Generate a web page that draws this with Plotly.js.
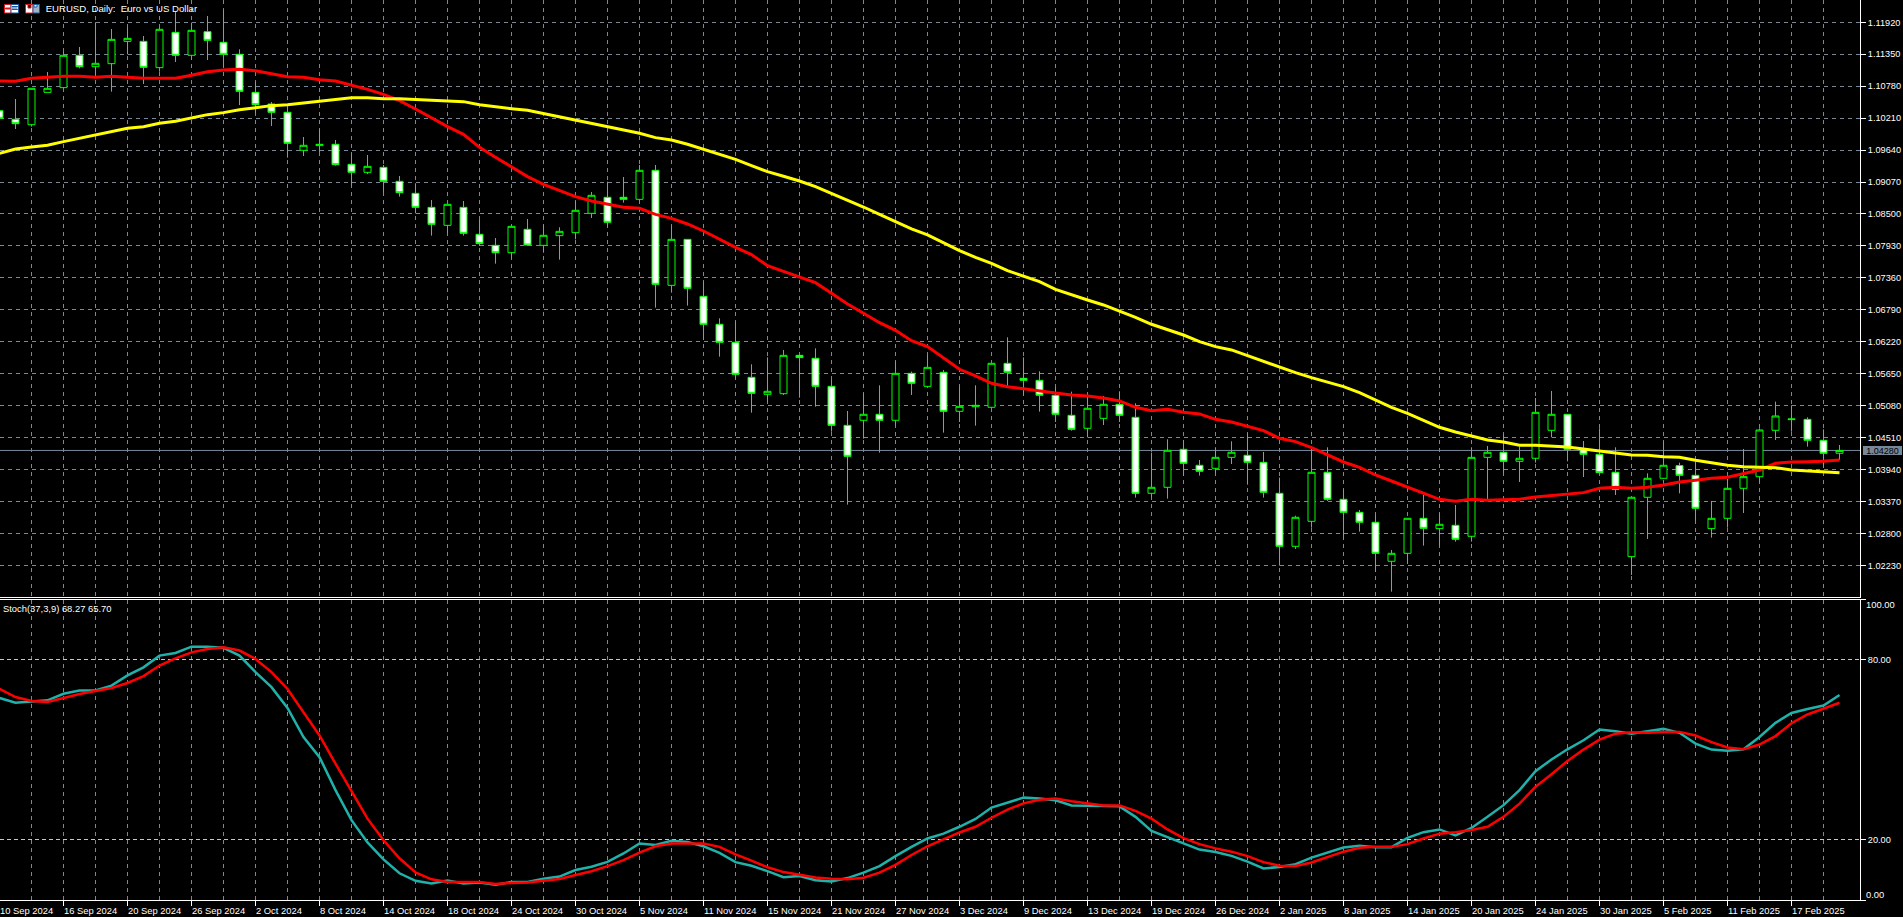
<!DOCTYPE html>
<html>
<head>
<meta charset="utf-8">
<title>EURUSD, Daily</title>
<script src="https://cdn.plot.ly/plotly-3.0.1.min.js"></script>
<style>
html, body { margin: 0; padding: 0; background: #000; overflow: hidden; }
#chart { width: 1903px; height: 917px; }
</style>
</head>
<body>
<div id="chart"></div>
<script>
// daily bars
var opens = [1.10343,1.10189,1.10093,1.10670,1.10754,1.11331,1.11128,1.11182,1.11580,1.11580,
1.11111,1.11741,1.11331,1.11753,1.11563,1.11349,1.10670,1.10462,1.10314,1.09636,
1.09719,1.09743,1.09386,1.09243,1.09332,1.09082,1.08868,1.08618,1.08297,1.08618,
1.08137,1.07940,1.07809,1.08226,1.07940,1.08113,1.08166,1.08511,1.08797,1.08797,
1.08761,1.09279,1.07226,1.08047,1.07030,1.06531,1.06209,1.05585,1.05282,1.05293,
1.05977,1.05924,1.05424,1.04728,1.04818,1.04925,1.04818,1.05656,1.05424,1.05674,
1.04978,1.05061,1.05050,1.05835,1.05567,1.05531,1.05264,1.04907,1.04675,1.04853,
1.05103,1.04871,1.03515,1.03622,1.04300,1.04015,1.03961,1.04157,1.04193,1.04068,
1.03515,1.02569,1.03015,1.03890,1.03408,1.03176,1.02998,1.02302,1.02444,1.03069,
1.02885,1.02944,1.02748,1.04157,1.04247,1.04086,1.04140,1.04639,1.04925,1.04300,
1.04211,1.03890,1.02385,1.03444,1.03783,1.04009,1.03836,1.02885,1.03069,1.03604,
1.03812,1.04639,1.04830,1.04835,1.04461,1.04229];
var highs = [1.10367,1.10551,1.10742,1.11033,1.11396,1.11479,1.11920,1.11801,1.11830,1.11676,
1.11830,1.12110,1.11914,1.12033,1.12140,1.11438,1.10861,1.10498,1.10427,1.09873,
1.10010,1.09820,1.09582,1.09552,1.09374,1.09178,1.09047,1.08749,1.08672,1.08731,
1.08404,1.08071,1.08297,1.08410,1.08303,1.08262,1.08731,1.08892,1.09076,1.09160,
1.09374,1.09374,1.08285,1.08047,1.07292,1.06638,1.06578,1.05817,1.05942,1.06073,
1.05977,1.06102,1.05549,1.04984,1.05299,1.05442,1.05870,1.05686,1.05983,1.05716,
1.05418,1.05442,1.05835,1.06299,1.05942,1.05692,1.05406,1.05329,1.05240,1.05252,
1.05335,1.05121,1.04241,1.04479,1.04467,1.04110,1.04336,1.04443,1.04586,1.04253,
1.03795,1.03116,1.04348,1.04336,1.03586,1.03218,1.03134,1.02504,1.03069,1.03485,
1.03158,1.03307,1.04336,1.04360,1.04568,1.04348,1.05216,1.05341,1.04925,1.04449,
1.04675,1.04336,1.03444,1.03872,1.04443,1.04062,1.04080,1.03378,1.03771,1.04306,
1.04675,1.05151,1.05085,1.04871,1.04657,1.04377];
var lows = [1.10165,1.10016,1.10058,1.10670,1.10742,1.11099,1.10962,1.10682,1.11349,1.10819,
1.11039,1.11212,1.11247,1.11247,1.11123,1.10444,1.10296,1.10070,1.09505,1.09534,
1.09606,1.09362,1.09005,1.09213,1.08880,1.08809,1.08511,1.08113,1.08154,1.08113,
1.07928,1.07613,1.07702,1.07934,1.07809,1.07685,1.08047,1.08428,1.08262,1.08702,
1.08725,1.06828,1.07096,1.06864,1.06251,1.05954,1.05561,1.04954,1.05145,1.05270,
1.05222,1.05061,1.04615,1.03313,1.04490,1.04241,1.04722,1.05270,1.05418,1.04598,
1.04788,1.04722,1.05032,1.05430,1.05264,1.04972,1.04788,1.04633,1.04514,1.04734,
1.04788,1.03438,1.03438,1.03420,1.03830,1.03830,1.03872,1.04038,1.03670,1.03438,
1.02224,1.02522,1.02902,1.03378,1.02694,1.02831,1.02117,1.01760,1.02266,1.02581,
1.02581,1.02653,1.02653,1.03414,1.03872,1.03717,1.04062,1.04514,1.04086,1.03806,
1.03854,1.03485,1.02058,1.02700,1.03777,1.03515,1.03015,1.02724,1.02902,1.03164,
1.03717,1.04467,1.04615,1.04348,1.03979,1.04110];
var closes = [1.10207,1.10111,1.10742,1.10742,1.11331,1.11128,1.11188,1.11616,1.11634,1.11117,
1.11795,1.11331,1.11777,1.11598,1.11349,1.10688,1.10450,1.10314,1.09760,1.09725,
1.09743,1.09380,1.09243,1.09350,1.09082,1.08880,1.08618,1.08315,1.08672,1.08154,
1.07970,1.07809,1.08279,1.07946,1.08119,1.08190,1.08565,1.08833,1.08351,1.08761,
1.09279,1.07244,1.08047,1.07173,1.06531,1.06209,1.05638,1.05299,1.05335,1.05977,
1.05936,1.05424,1.04728,1.04175,1.04925,1.04818,1.05656,1.05478,1.05763,1.04978,
1.05067,1.05085,1.05835,1.05674,1.05531,1.05264,1.04925,1.04657,1.05032,1.05103,
1.04907,1.03515,1.03622,1.04282,1.04050,1.03908,1.04157,1.04247,1.04068,1.03533,
1.02569,1.03087,1.03890,1.03408,1.03176,1.02998,1.02444,1.02444,1.03069,1.02890,
1.02962,1.02694,1.04157,1.04247,1.04086,1.04140,1.04960,1.04925,1.04300,1.04211,
1.03884,1.03586,1.03444,1.03783,1.04015,1.03836,1.03247,1.03069,1.03604,1.03812,
1.04645,1.04895,1.04841,1.04461,1.04229,1.04280];

// moving averages
var maFast = [1.10873,1.10867,1.10920,1.10938,1.10956,1.10956,1.10938,1.10956,1.10938,1.10920,
1.10920,1.10920,1.10974,1.11039,1.11069,1.11081,1.11057,1.10998,1.10950,1.10938,
1.10896,1.10873,1.10801,1.10724,1.10635,1.10522,1.10373,1.10212,1.10058,1.09921,
1.09689,1.09511,1.09332,1.09166,1.09029,1.08916,1.08809,1.08731,1.08678,1.08618,
1.08601,1.08493,1.08422,1.08321,1.08196,1.08047,1.07905,1.07774,1.07577,1.07476,
1.07375,1.07274,1.07084,1.06893,1.06727,1.06560,1.06424,1.06239,1.06132,1.05924,
1.05728,1.05609,1.05478,1.05418,1.05377,1.05341,1.05305,1.05270,1.05252,1.05216,
1.05163,1.05050,1.04990,1.05014,1.04960,1.04931,1.04835,1.04788,1.04705,1.04633,
1.04496,1.04437,1.04330,1.04199,1.04074,1.03979,1.03842,1.03735,1.03622,1.03515,
1.03408,1.03372,1.03408,1.03390,1.03402,1.03408,1.03450,1.03479,1.03497,1.03527,
1.03604,1.03622,1.03604,1.03622,1.03664,1.03717,1.03747,1.03783,1.03801,1.03860,
1.03931,1.04050,1.04074,1.04080,1.04086,1.04110];
var maSlow = [1.09582,1.09659,1.09695,1.09725,1.09790,1.09850,1.09897,1.09969,1.10028,1.10058,
1.10117,1.10153,1.10207,1.10272,1.10308,1.10361,1.10397,1.10433,1.10450,1.10480,
1.10522,1.10540,1.10575,1.10575,1.10557,1.10557,1.10546,1.10528,1.10528,1.10504,
1.10450,1.10421,1.10379,1.10349,1.10290,1.10242,1.10177,1.10123,1.10052,1.10004,
1.09939,1.09862,1.09820,1.09743,1.09653,1.09570,1.09475,1.09362,1.09255,1.09172,
1.09088,1.08987,1.08868,1.08749,1.08624,1.08493,1.08363,1.08232,1.08125,1.07988,
1.07845,1.07726,1.07619,1.07488,1.07393,1.07292,1.07155,1.07054,1.06965,1.06876,
1.06769,1.06656,1.06531,1.06441,1.06340,1.06221,1.06132,1.06073,1.05971,1.05864,
1.05775,1.05668,1.05579,1.05496,1.05418,1.05311,1.05180,1.05050,1.04943,1.04812,
1.04693,1.04609,1.04532,1.04467,1.04431,1.04372,1.04372,1.04354,1.04342,1.04306,
1.04276,1.04235,1.04199,1.04193,1.04169,1.04157,1.04104,1.04056,1.04015,1.03991,
1.03979,1.03973,1.03931,1.03914,1.03902,1.03884];

// stochastic
var stochMain = [67.3,65.7,66.1,66.5,68.7,69.8,69.8,71.4,74.8,77.5,
81.4,82.3,84.4,84.4,84.0,81.4,75.9,70.9,64.0,54.3,
47.6,36.6,26.6,19.2,13.5,8.9,6.4,5.5,6.5,5.5,
5.8,5.1,6.0,6.0,7.1,7.8,10.0,11.1,12.7,15.5,
18.8,18.3,19.7,19.3,17.9,15.7,12.6,11.4,9.6,7.6,
8.0,6.6,6.2,7.3,9.1,11.3,14.6,17.7,20.5,22.1,
24.4,27.0,30.8,32.4,34.1,33.8,33.2,31.5,31.5,31.3,
31.2,27.7,23.0,21.0,19.0,16.8,16.0,14.7,12.8,10.5,
11.0,11.9,14.1,15.8,17.5,18.1,17.6,17.6,20.7,22.6,
23.5,21.5,24.0,27.7,31.6,36.6,42.9,46.8,50.2,53.2,
56.8,56.2,55.4,56.2,57.0,55.7,52.1,50.1,49.7,50.2,
54.3,59.0,62.3,63.6,64.8,68.27];
var stochSignal = [70.3,67.6,66.3,66.0,67.3,68.6,69.6,70.6,72.3,74.6,
78.1,80.5,82.5,83.6,84.2,83.1,80.3,75.9,70.3,62.6,
54.8,45.4,36.0,27.1,19.9,13.9,9.2,6.9,6.0,6.0,
6.0,5.3,5.7,5.8,6.4,7.0,8.3,9.6,11.3,13.3,
15.8,17.9,18.8,18.8,18.8,17.7,15.2,13.1,10.9,9.3,
8.3,7.5,7.1,6.9,7.4,9.1,11.7,15.0,17.9,20.2,
22.5,24.4,27.4,30.1,32.2,33.4,33.8,32.9,32.1,31.5,
31.5,29.7,27.1,23.5,20.6,18.6,17.2,16.1,14.6,12.6,
11.4,11.3,12.5,14.2,16.1,17.4,17.7,17.7,18.6,20.5,
22.1,22.6,23.3,24.4,27.7,32.1,37.7,41.9,46.3,50.1,
53.4,55.4,55.9,55.7,56.0,56.0,54.8,52.6,50.8,50.2,
51.8,54.6,58.9,61.8,63.7,65.70];

var dateLabels = ["10 Sep 2024","16 Sep 2024","20 Sep 2024","26 Sep 2024","2 Oct 2024","8 Oct 2024","14 Oct 2024","18 Oct 2024","24 Oct 2024","30 Oct 2024",
"5 Nov 2024","11 Nov 2024","15 Nov 2024","21 Nov 2024","27 Nov 2024","3 Dec 2024","9 Dec 2024","13 Dec 2024","19 Dec 2024","26 Dec 2024",
"2 Jan 2025","8 Jan 2025","14 Jan 2025","20 Jan 2025","24 Jan 2025","30 Jan 2025","5 Feb 2025","11 Feb 2025","17 Feb 2025"];
var priceTicks = [1.1192,1.1135,1.1078,1.1021,1.0964,1.0907,1.085,1.0793,1.0736,1.0679,1.0622,1.0565,1.0508,1.0451,1.0394,1.0337,1.028,1.0223];
var stochTicks = [100,80,20,0];
var stochTickText = ["","80.00","20.00",""];
var lastPrice = 1.0428;

var GRID = "#778899";
var LEVEL = "#c8c8c8";
var FONT = "Liberation Sans";
var W = 1903, H = 917, PLOT_W = 1860, PLOT_H = 900;
var X_RANGE = [0.03125, 116.28125]; // 16px per bar, wicks on a pixel centre

var xs = [];
for (let i = 0; i < opens.length; i++) xs.push(i);

// major ticks every 4 bars carry the dates, the grid runs every 2 bars
var labelBars = [], minorBars = [];
for (let i = 0; i < dateLabels.length; i++) labelBars.push(i * 4);
for (let i = 2; i < 116; i += 4) minorBars.push(i);

function xAxisBase(){
    return {
        range: X_RANGE,
        tickmode: "array",
        tickvals: labelBars,
        ticktext: labelBars.map(function(){ return ""; }),
        showgrid: true,
        gridcolor: GRID,
        griddash: "4px,4px",
        gridwidth: 1,
        zeroline: false,
        minor: {tickmode: "array", tickvals: minorBars, showgrid: true, gridcolor: GRID, griddash: "4px,4px", gridwidth: 1, ticks: ""},
        linecolor: "#ffffff",
        linewidth: 1,
        showline: true,
        fixedrange: true
    };
}

var xTop = xAxisBase();
xTop.anchor = "y";
xTop.rangeslider = {visible: false};
xTop.ticks = "";

var xBottom = xAxisBase();
xBottom.anchor = "y2";
xBottom.ticks = "outside";
xBottom.ticklen = 5;
xBottom.tickcolor = "#ffffff";
xBottom.mirror = true;

var traces = [
    {
        type: "candlestick", x: xs, open: opens, high: highs, low: lows, close: closes,
        xaxis: "x", yaxis: "y", hoverinfo: "skip", showlegend: false,
        increasing: {line: {color: "#00ff00", width: 1}, fillcolor: "#000000"},
        decreasing: {line: {color: "#00ff00", width: 1}, fillcolor: "#ffffff"}
    },
    {type: "scatter", mode: "lines", x: xs, y: maFast, xaxis: "x", yaxis: "y", line: {color: "#ff0000", width: 3}, hoverinfo: "skip", showlegend: false},
    {type: "scatter", mode: "lines", x: xs, y: maSlow, xaxis: "x", yaxis: "y", line: {color: "#ffff00", width: 3}, hoverinfo: "skip", showlegend: false},
    {type: "scatter", mode: "lines", x: xs, y: stochMain, xaxis: "x2", yaxis: "y2", line: {color: "#20b2aa", width: 2.5}, hoverinfo: "skip", showlegend: false},
    {type: "scatter", mode: "lines", x: xs, y: stochSignal, xaxis: "x2", yaxis: "y2", line: {color: "#ff0000", width: 2.5}, hoverinfo: "skip", showlegend: false}
];

function smallNote(text, extra){
    var a = {text: text, showarrow: false, font: {family: FONT, size: 9.4, color: "#ffffff"}, borderpad: 0, borderwidth: 0};
    for (var k in extra) a[k] = extra[k];
    return a;
}

function barToPaper(bar){
    return Math.max(0, (bar - X_RANGE[0]) / (X_RANGE[1] - X_RANGE[0]));
}

var annotations = dateLabels.map(function(d, i){
    return smallNote(d, {xref: "paper", x: barToPaper(labelBars[i]), xanchor: "left", yref: "paper", y: 0, yanchor: "top", yshift: -5});
});
annotations.push(smallNote("Stoch(37,3,9) 68.27 65.70", {xref: "paper", x: 3 / PLOT_W, xanchor: "left", yref: "paper", y: (PLOT_H - 608.3) / PLOT_H, yanchor: "middle"}));
annotations.push(smallNote("100.00", {xref: "paper", x: 1, xanchor: "left", xshift: 6, yref: "y2", y: 100, yanchor: "middle", yshift: -5}));
annotations.push(smallNote("0.00", {xref: "paper", x: 1, xanchor: "left", xshift: 6, yref: "y2", y: 0, yanchor: "middle", yshift: 6}));
annotations.push({
    text: lastPrice.toFixed(5), showarrow: false, font: {family: FONT, size: 9, color: "#000000"},
    xref: "paper", x: 1, xanchor: "left", xshift: 3, yref: "y", y: lastPrice, yanchor: "middle",
    bgcolor: GRID, width: 39, height: 9, borderpad: 0, borderwidth: 0, align: "center"
});

// toolbar icons in the chart's corner, in page pixels
function iconBox(x0, y0, x1, y1, line, fill){
    return {
        type: "rect", xref: "paper", yref: "paper", layer: "above",
        x0: x0 / PLOT_W, x1: x1 / PLOT_W, y0: (PLOT_H - y0) / PLOT_H, y1: (PLOT_H - y1) / PLOT_H,
        line: {color: line, width: 1}, fillcolor: fill
    };
}

var shapes = [
    {type: "line", xref: "x domain", yref: "y", x0: 0, x1: 1, y0: lastPrice, y1: lastPrice, layer: "below", line: {color: GRID, width: 1}},
    iconBox(4.5, 4.5, 11, 13, "#e0141c", "#ffffff"),
    iconBox(11, 4.5, 18.5, 13, "#1a5a9c", "#ffffff"),
    iconBox(5.5, 8, 10, 9, "#e0141c", "#e0141c"),
    iconBox(12, 6.5, 17.5, 7, "#1a5a9c", "#1a5a9c"),
    iconBox(12, 9, 17.5, 9.5, "#1a5a9c", "#1a5a9c"),
    iconBox(25.5, 4.5, 33, 13, "#e0141c", "#ffffff"),
    iconBox(33, 4.5, 39.5, 13, "#1a5a9c", "#9fb4c8"),
    iconBox(28, 4.5, 31, 8, "#e0141c", "#000000"),
    iconBox(34, 4.5, 37, 7, "#1a5a9c", "#ffffff")
];

var layout = {
    width: W,
    height: H,
    margin: {l: 0, r: W - PLOT_W, t: 0, b: H - PLOT_H, pad: 0},
    paper_bgcolor: "#000000",
    plot_bgcolor: "#000000",
    showlegend: false,
    boxgap: 0.375,
    title: {
        text: "EURUSD, Daily:\u00a0 Euro vs US Dollar",
        font: {family: FONT, size: 9.6, color: "#ffffff"},
        x: 45.7 / W, xanchor: "left", xref: "container",
        y: 1 - 8.3 / H, yanchor: "middle", yref: "container"
    },
    xaxis: xTop,
    xaxis2: xBottom,
    yaxis: {
        domain: [(PLOT_H - 597.2) / PLOT_H, 1],
        range: [1.01661, 1.12318],
        side: "right",
        anchor: "x",
        tickmode: "array",
        tickvals: priceTicks,
        tickformat: ".5f",
        ticks: "outside", ticklen: 5, tickcolor: "#ffffff",
        tickfont: {family: FONT, size: 9.2, color: "#ffffff"},
        showgrid: true, gridcolor: GRID, griddash: "4px,4px", gridwidth: 1,
        zeroline: false,
        showline: true, linecolor: "#ffffff", linewidth: 1,
        fixedrange: true
    },
    yaxis2: {
        domain: [0, (PLOT_H - 599.8) / PLOT_H],
        range: [0, 100],
        side: "right",
        anchor: "x2",
        tickmode: "array",
        tickvals: stochTicks,
        ticktext: stochTickText,
        ticks: "outside", ticklen: 5, tickcolor: "#ffffff",
        tickfont: {family: FONT, size: 9.2, color: "#ffffff"},
        showgrid: true, gridcolor: LEVEL, griddash: "4px,3px", gridwidth: 1,
        zeroline: false,
        showline: true, linecolor: "#ffffff", linewidth: 1,
        fixedrange: true
    },
    annotations: annotations,
    shapes: shapes
};

Plotly.newPlot("chart", traces, layout, {displayModeBar: false, responsive: false});
</script>
</body>
</html>
